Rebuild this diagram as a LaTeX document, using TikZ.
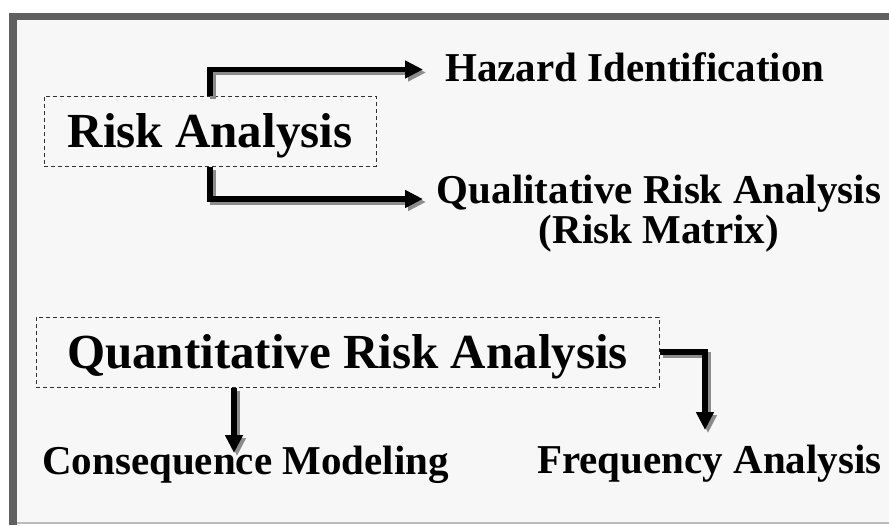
\documentclass[tikz,border=0pt]{standalone}
\usepackage{fontspec}
\setmainfont{Liberation Serif}
\usetikzlibrary{arrows.meta}
\definecolor{bgc}{HTML}{F7F7F7}
\definecolor{framec}{HTML}{606060}
\definecolor{botc}{HTML}{BBBBBB}
\definecolor{dashc}{HTML}{303030}
\tikzset{
  arr/.style={line width=5.5pt, line join=miter, -{Triangle[length=18pt,width=17pt]}},
  shd/.style={arr, draw=black!45, transform canvas={shift={(3pt,-3pt)}}},
  bigbox/.style={draw=dashc, line width=1pt, dash pattern=on 4pt off 3pt, inner sep=0pt,
    minimum height=70pt, text height=37pt, text depth=5pt,
    font=\bfseries\fontsize{49}{56}\selectfont},
  lbl/.style={inner sep=0pt, font=\bfseries\fontsize{41}{40}\selectfont}
}
\begin{document}
\begin{tikzpicture}[x=1pt,y=-1pt]
\useasboundingbox (0,0) rectangle (889,525);
\fill[white] (0,0) rectangle (889,525);
\fill[bgc] (17,20) rectangle (889,523);
\fill[framec] (9,13) rectangle (889,20);
\fill[framec] (9,13) rectangle (17,525);
\fill[botc] (17,522) rectangle (889,524);

\node[bigbox, minimum width=332pt] (ra) at (210,131) {Risk Analysis};
\node[bigbox, minimum width=623pt] (qa) at (347.5,352) {Quantitative Risk Analysis};

\node[lbl, anchor=base west] (hz) at (445,81) {Hazard Identification};
\node[lbl, anchor=base, align=center] (ql) at (659,243) {Qualitative Risk Analysis\\(Risk Matrix)};
\node[lbl, anchor=base west] (cm) at (42,474) {Consequence Modeling};
\node[lbl, anchor=base west] (fa) at (537,473) {Frequency Analysis};

\coordinate (t1) at (423,69.5);
\coordinate (t2) at (423,199);
\coordinate (t3) at (705,430);
\coordinate (t4) at (234,453);

\foreach \s in {shd,arr}{
  \draw[\s] (ra.north) |- (t1);
  \draw[\s] (ra.south) |- (t2);
  \draw[\s] (qa.east) -| (t3);
  \draw[\s] (qa.south -| t4) -- (t4);
}
\end{tikzpicture}
\end{document}
